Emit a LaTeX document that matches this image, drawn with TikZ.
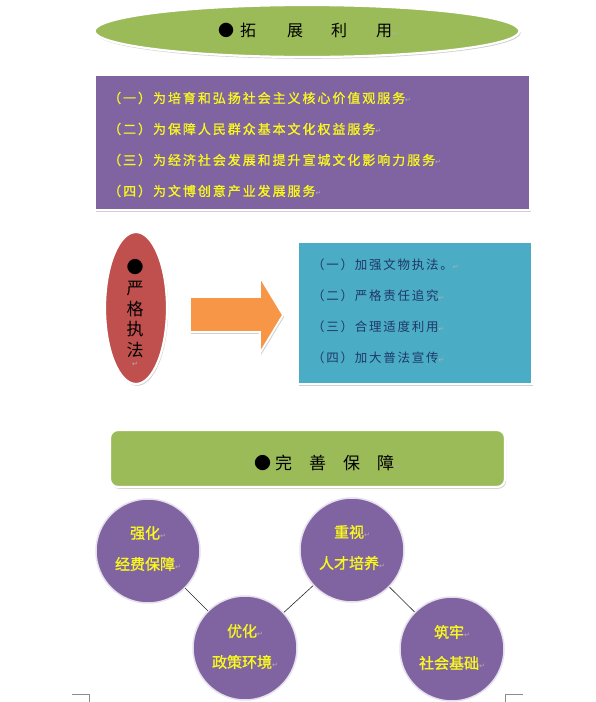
\documentclass[tikz,border=0pt]{standalone}
\usepackage{fontspec}
\usetikzlibrary{shapes.geometric,shadows}
\newfontfamily\cjk{Noto Sans CJK SC}
\newfontfamily\cjkb{Noto Sans CJK SC}[FakeBold=1.2]
\newfontfamily\sym{DejaVu Sans}
\definecolor{cgreen}{HTML}{9BBB59}
\definecolor{cpurple}{HTML}{8064A2}
\definecolor{cred}{HTML}{C0504D}
\definecolor{corange}{HTML}{F79646}
\definecolor{cblue}{HTML}{4BACC6}
\definecolor{cnavy}{HTML}{1F3864}
\definecolor{cyel}{HTML}{F8F81E}
\definecolor{cmark}{HTML}{B0B0B0}
\newcommand{\retmark}{{\sym\fontsize{7}{7}\selectfont\color{cmark}\char"21B5}}
\tikzset{
  shad/.style={drop shadow={opacity=0.3,shadow xshift=1.2pt,shadow yshift=-1.8pt,fill=black!60}},
  shapebox/.style={draw=white,line width=2.2pt,shad,inner sep=0pt},
  ptext/.style={anchor=west,inner sep=0pt,text=cyel,font=\cjkb\fontsize{13}{13}\selectfont\addfontfeature{LetterSpace=15}},
  btext/.style={anchor=west,inner sep=0pt,text=cnavy,font=\cjk\fontsize{12.5}{12.5}\selectfont\addfontfeature{LetterSpace=14}},
  circ/.style={circle,fill=cpurple,draw=cpurple!20,line width=1.5pt,minimum size=104pt,inner sep=0pt},
  ctext/.style={inner sep=0pt,text=cyel,font=\cjkb\fontsize{15}{15}\selectfont},
  link/.style={draw=black!85,line width=0.6pt},
  cornermark/.style={draw=black!45,line width=0.6pt}
}
\begin{document}
\begin{tikzpicture}[x=1pt,y=-1pt]
\useasboundingbox (0,0) rectangle (595,702);
\fill[white] (0,0) rectangle (595,702);

% top ellipse
\node[shapebox,ellipse,fill=cgreen,minimum width=425pt,minimum height=52pt] (top) at (307,31) {};
\node[anchor=west,inner sep=0pt,font=\cjk\fontsize{16}{16}\selectfont] (toptext) at (218,30)
  {●\hspace{6pt}拓\hspace{31pt}展\hspace{28pt}利\hspace{29pt}用\retmark};

% purple box
\node[shapebox,rectangle,fill=cpurple,minimum width=435pt,minimum height=135pt] (pbox) at (312.5,142.5) {};
\node[ptext] (p1) at (108,98) {（一）为培育和弘扬社会主义核心价值观服务\retmark};
\node[ptext] (p2) at (108,129) {（二）为保障人民群众基本文化权益服务\retmark};
\node[ptext] (p3) at (108,160) {（三）为经济社会发展和提升宣城文化影响力服务\retmark};
\node[ptext] (p4) at (108,191) {（四）为文博创意产业发展服务\retmark};

% red ellipse
\node[shapebox,ellipse,fill=cred,minimum width=62pt,minimum height=152pt] (red) at (136,308) {};
\node[inner sep=0pt,align=center,font=\cjk\fontsize{17}{20.5}\selectfont] (redtext) at (135,313)
  {●\\[1pt]严\\格\\执\\法\\[-10pt]\retmark};

% orange arrow
\fill[corange,draw=white,line width=1.8pt,shad,line join=miter]
  (190,297) -- (260,297) -- (260,277) -- (283,315) -- (260,353) -- (260,332) -- (190,332) -- cycle;

% blue box
\node[shapebox,rectangle,fill=cblue,minimum width=234pt,minimum height=142pt] (bbox) at (415,313) {};
\node[btext] (b1) at (312,265) {（一）加强文物执法。\retmark};
\node[btext] (b2) at (312,296) {（二）严格责任追究\retmark};
\node[btext] (b3) at (312,327) {（三）合理适度利用\retmark};
\node[btext] (b4) at (312,358) {（四）加大普法宣传\retmark};

% green rounded box
\node[shapebox,rectangle,rounded corners=8pt,fill=cgreen,minimum width=395pt,minimum height=57pt] (gbox) at (307.5,458.5) {};
\node[anchor=west,inner sep=0pt,font=\cjk\fontsize{17}{17}\selectfont] (gtext) at (254,463)
  {●\hspace{4pt}完\hspace{17pt}善\hspace{17pt}保\hspace{17pt}障\retmark};

% circles
\node[circ] (c1) at (148,551) {};
\node[circ] (c2) at (245,648) {};
\node[circ] (c3) at (352,550) {};
\node[circ] (c4) at (452,649) {};
\draw[link] (c1) -- (c2);
\draw[link] (c2) -- (c3);
\draw[link] (c3) -- (c4);

\node[ctext] at (148,533) {强化\retmark};
\node[ctext] at (148,564) {经费保障\retmark};
\node[ctext] at (245,631) {优化\retmark};
\node[ctext] at (245,662) {政策环境\retmark};
\node[ctext] at (352,532) {重视\retmark};
\node[ctext] at (352,563) {人才培养\retmark};
\node[ctext] at (452,632) {筑牢\retmark};
\node[ctext] at (452,663) {社会基础\retmark};

% page corner marks
\draw[cornermark] (72,694) -- (89,694) -- (89,702);
\draw[cornermark] (523,694) -- (505,694) -- (505,702);
\end{tikzpicture}
\end{document}
